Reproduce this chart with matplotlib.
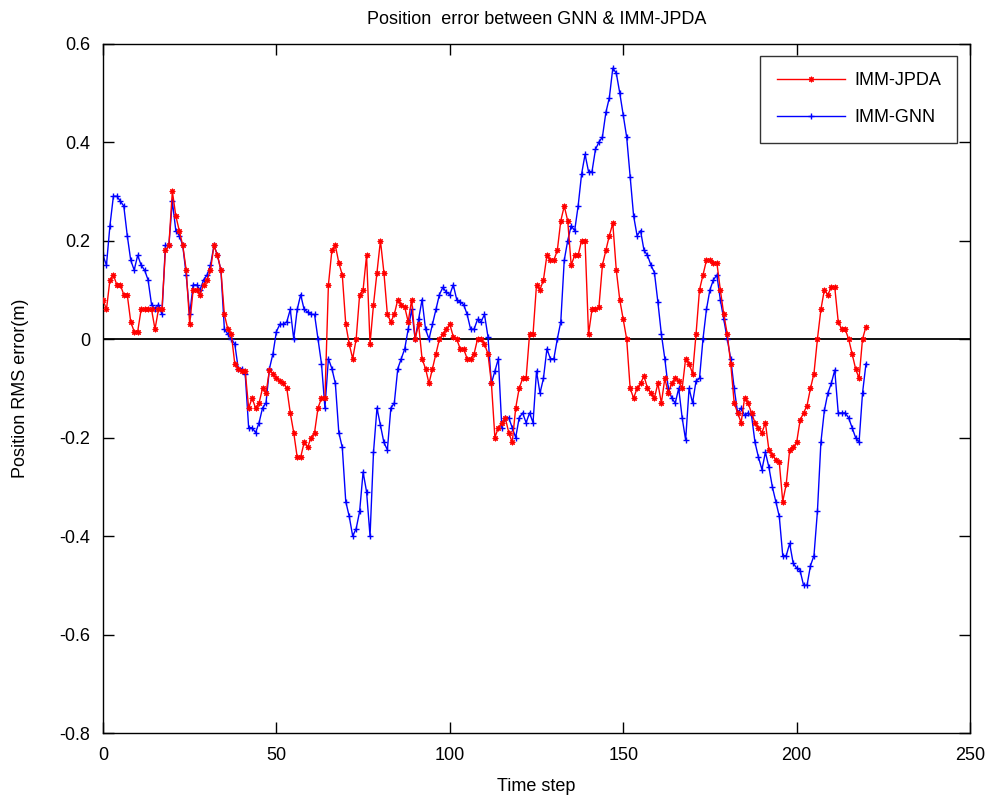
import matplotlib
matplotlib.use("Agg")
import matplotlib.pyplot as plt
import numpy as np

plt.rcParams['font.family'] = ['Liberation Sans', 'DejaVu Sans']
plt.rcParams['axes.unicode_minus'] = False

# RMS position error, one value per time step
jpda = [
    0.08, 0.06, 0.12, 0.13, 0.11, 0.11, 0.09, 0.09, 0.035, 0.015,
    0.015, 0.06, 0.06, 0.06, 0.06, 0.02, 0.06, 0.06, 0.18, 0.19,
    0.30, 0.25, 0.22, 0.19, 0.14, 0.03, 0.10, 0.10, 0.09, 0.11, 0.12,
    0.14, 0.19, 0.17, 0.14, 0.05, 0.02, 0.01, -0.05, -0.06, -0.065,
    -0.065, -0.14, -0.12, -0.14, -0.13, -0.10, -0.11, -0.063, -0.07, -0.08,
    -0.085, -0.09, -0.10, -0.15, -0.19, -0.24, -0.24, -0.21, -0.22, -0.20, -0.19,
    -0.14, -0.12, -0.12, 0.11, 0.18, 0.19, 0.155, 0.13, 0.03, -0.01,
    -0.04, 0.00, 0.09, 0.10, 0.17, -0.01, 0.07, 0.135, 0.20, 0.135,
    0.05, 0.035, 0.05, 0.08, 0.07, 0.065, 0.035, 0.08, 0.00, 0.03,
    -0.04, -0.06, -0.09, -0.06, -0.03, 0.00, 0.01, 0.02, 0.03, 0.005, 0.00,
    -0.02, -0.02, -0.04, -0.04, -0.03, 0.00, 0.00, -0.01, -0.03, -0.09,
    -0.20, -0.18, -0.17, -0.16, -0.19, -0.21, -0.14, -0.10, -0.08, -0.08,
    0.01, 0.01, 0.11, 0.10, 0.12, 0.17, 0.16, 0.16, 0.18, 0.24,
    0.27, 0.24, 0.15, 0.17, 0.17, 0.20, 0.20, 0.01, 0.06, 0.06,
    0.065, 0.15, 0.18, 0.21, 0.235, 0.14, 0.08, 0.04, 0.00, -0.10,
    -0.12, -0.10, -0.09, -0.075, -0.10, -0.11, -0.12, -0.09, -0.13, -0.08, -0.11,
    -0.09, -0.08, -0.085, -0.10, -0.04, -0.05, -0.07, 0.01, 0.10, 0.13,
    0.16, 0.16, 0.155, 0.155, 0.10, 0.05, 0.01, -0.05, -0.13, -0.15,
    -0.17, -0.12, -0.13, -0.15, -0.17, -0.18, -0.19, -0.17, -0.225, -0.235, -0.245,
    -0.25, -0.33, -0.295, -0.225, -0.22, -0.21, -0.165, -0.15, -0.135, -0.10,
    -0.07, 0.00, 0.06, 0.10, 0.09, 0.105, 0.105, 0.035, 0.02, 0.02,
    0.00, -0.03, -0.06, -0.08, 0.00, 0.025,
]

gnn = [
    0.17, 0.15, 0.23, 0.29, 0.29, 0.28, 0.27, 0.21, 0.16, 0.14,
    0.17, 0.15, 0.14, 0.12, 0.07, 0.06, 0.07, 0.05, 0.19, 0.19,
    0.28, 0.22, 0.21, 0.19, 0.13, 0.05, 0.11, 0.11, 0.10, 0.12, 0.13,
    0.15, 0.19, 0.17, 0.14, 0.02, 0.01, 0.00, -0.01, -0.06, -0.06,
    -0.07, -0.18, -0.18, -0.19, -0.17, -0.14, -0.13, -0.06, -0.03, 0.015,
    0.03, 0.03, 0.035, 0.06, 0.00, 0.06, 0.09, 0.06, 0.055, 0.05, 0.05,
    0.00, -0.05, -0.14, -0.04, -0.06, -0.09, -0.19, -0.22, -0.33, -0.36,
    -0.40, -0.385, -0.35, -0.27, -0.31, -0.40, -0.23, -0.14, -0.175, -0.21,
    -0.225, -0.14, -0.13, -0.06, -0.04, -0.02, 0.02, 0.06, 0.00, 0.04,
    0.08, 0.02, 0.00, 0.03, 0.06, 0.09, 0.105, 0.095, 0.09, 0.11, 0.08,
    0.075, 0.07, 0.05, 0.02, 0.02, 0.04, 0.035, 0.05, 0.005, -0.09,
    -0.065, -0.04, -0.18, -0.16, -0.16, -0.18, -0.20, -0.16, -0.15, -0.17,
    -0.15, -0.17, -0.065, -0.11, -0.08, -0.02, -0.04, -0.04, 0.00, 0.035,
    0.16, 0.20, 0.23, 0.22, 0.27, 0.335, 0.375, 0.34, 0.34, 0.385,
    0.40, 0.41, 0.46, 0.49, 0.55, 0.54, 0.50, 0.455, 0.41, 0.33,
    0.25, 0.21, 0.22, 0.18, 0.17, 0.15, 0.135, 0.075, 0.01, -0.04, -0.10,
    -0.12, -0.13, -0.10, -0.16, -0.205, -0.10, -0.13, -0.085, -0.08, 0.00,
    0.06, 0.10, 0.12, 0.13, 0.08, 0.04, 0.00, -0.04, -0.10, -0.15,
    -0.14, -0.155, -0.15, -0.155, -0.21, -0.24, -0.265, -0.23, -0.26, -0.30, -0.33,
    -0.36, -0.44, -0.44, -0.415, -0.455, -0.465, -0.47, -0.50, -0.50, -0.46,
    -0.44, -0.35, -0.21, -0.145, -0.11, -0.09, -0.063, -0.15, -0.15, -0.15,
    -0.16, -0.18, -0.20, -0.21, -0.11, -0.05,
]

x_ticks = [0, 50, 100, 150, 200, 250]
y_ticks = [-0.8, -0.6, -0.4, -0.2, 0, 0.2, 0.4, 0.6]
y_tick_labels = ['-0.8', '-0.6', '-0.4', '-0.2', '0', '0.2', '0.4', '0.6']

t_jpda = np.arange(len(jpda))
t_gnn = np.arange(len(gnn))

fig = plt.figure(figsize=(9.95, 8.05), dpi=100)
ax = fig.add_axes([0.1035, 0.0894, 0.8714, 0.8565])

ax.axhline(0, color='black', lw=1.3, zorder=1)
ax.plot(t_jpda, jpda, color='#ff0000', lw=1.0, marker=(8, 2, 0),
        markersize=4, markeredgewidth=0.8, label='IMM-JPDA', zorder=3)
ax.plot(t_gnn, gnn, color='#0000ff', lw=1.0, marker='+',
        markersize=5, markeredgewidth=1.0, label='IMM-GNN', zorder=2)

ax.set_xlim(0, 250)
ax.set_ylim(-0.8, 0.6)
ax.set_xticks(x_ticks)
ax.set_yticks(y_ticks)
ax.set_yticklabels(y_tick_labels)
ax.tick_params(direction='in', length=8, width=1, labelsize=13,
               top=True, right=True)
ax.tick_params(axis='x', pad=10)
ax.tick_params(axis='y', pad=9)
for s in ax.spines.values():
    s.set_linewidth(1.0)

ax.set_title('Position  error between GNN & IMM-JPDA', fontsize=13, pad=14)
ax.set_xlabel('Time step', fontsize=13, labelpad=10)
ax.set_ylabel('Position RMS error(m)', fontsize=13, labelpad=22)

leg = ax.legend(loc='upper right', fontsize=13, frameon=True, fancybox=False,
                edgecolor='black', borderaxespad=0.7, handlelength=3.8,
                handletextpad=0.5, borderpad=0.9, labelspacing=1.1)
leg.get_frame().set_linewidth(1.0)

fig.savefig('out.png', dpi=100)
